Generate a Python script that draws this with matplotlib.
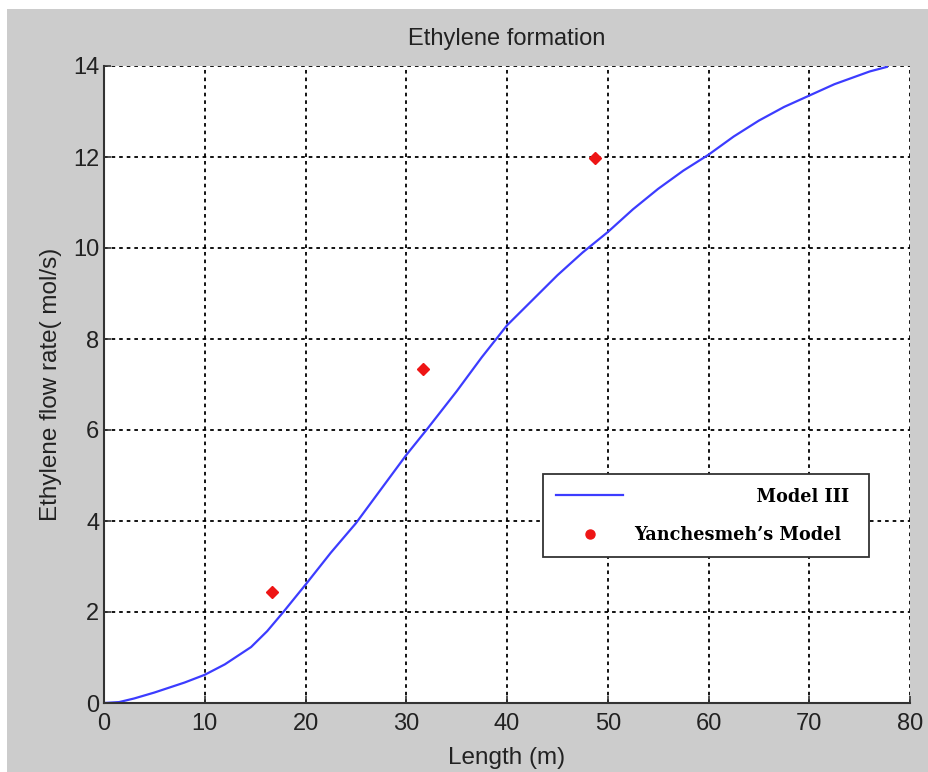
import numpy as np
import matplotlib
matplotlib.use('Agg')
import matplotlib.pyplot as plt
from matplotlib.patches import Rectangle

# Model III curve
length_m = [0, 1.5, 3, 5, 8, 10, 12, 14.6, 16.2, 17.8, 20, 22.5, 25, 27.5, 30,
            32, 35, 37.5, 40, 42.5, 45, 47.5, 50, 52.5, 55, 57.5, 60, 62.5,
            65, 67.5, 70, 72.5, 75, 76, 77.7]
ethylene = [0.0, 0.02, 0.1, 0.23, 0.45, 0.62, 0.85, 1.23, 1.58, 2.0, 2.6, 3.3,
            3.95, 4.7, 5.45, 6.0, 6.85, 7.6, 8.3, 8.85, 9.4, 9.9, 10.35, 10.85,
            11.3, 11.7, 12.05, 12.45, 12.8, 13.1, 13.35, 13.6, 13.8, 13.88, 13.98]

# Yanchesmeh's model points
ref_x = [16.65, 31.7, 48.75]
ref_y = [2.43, 7.34, 11.97]

fig = plt.figure(figsize=(9.29, 7.72), dpi=100)
fig.patch.set_facecolor('#cccccc')
# white strips at top and left edge of the screenshot
fig.patches.append(Rectangle((0, 1 - 9/772.), 1, 9/772., transform=fig.transFigure,
                             facecolor='white', edgecolor='none', zorder=-1))
fig.patches.append(Rectangle((0, 0), 7/929., 1, transform=fig.transFigure,
                             facecolor='white', edgecolor='none', zorder=-1))

ax = fig.add_axes([104/929., 1 - 703/772., 806/929., 637/772.])
ax.set_facecolor('white')

font = 'Liberation Sans'
txtc = '#222222'

ax.plot(length_m, ethylene, color='#3c3cff', linewidth=1.6,
        label=' ' * 20 + 'Model III')
ax.plot(ref_x, ref_y, linestyle='none', marker='D', markersize=6.5,
        color='#ee1515', label="Yanchesmeh\u2019s Model")

ax.set_xlim(0, 80)
ax.set_ylim(0, 14)
ax.set_xticks(np.arange(0, 81, 10))
ax.set_yticks(np.arange(0, 15, 2))

ax.grid(True, color='black', linestyle=(0, (2, 2.2)), linewidth=1.3)
ax.set_axisbelow(True)
ax.spines['top'].set_visible(False)
ax.spines['right'].set_visible(False)
for s in ['left', 'bottom']:
    ax.spines[s].set_color('#333333')
    ax.spines[s].set_linewidth(1.5)

ax.tick_params(direction='in', length=5, width=1.2, color='#333333',
               labelsize=17, labelcolor=txtc)
ax.tick_params(axis='x', pad=7)
for t in ax.get_xticklabels() + ax.get_yticklabels():
    t.set_fontfamily(font)

ax.set_title('Ethylene formation', fontsize=17, family=font, color=txtc, pad=15)
ax.set_xlabel('Length (m)', fontsize=17.5, family=font, color=txtc, labelpad=9)
ax.set_ylabel('Ethylene flow rate( mol/s)', fontsize=17.5, family=font, color=txtc, labelpad=8)

leg = ax.legend(loc='lower left', bbox_to_anchor=(0.5447, 0.229, 0.405, 0.127),
                mode='expand', borderaxespad=0, handlelength=3.8, handletextpad=0.6,
                borderpad=0.75, labelspacing=1.15, fancybox=False, framealpha=1,
                prop={'family': 'DejaVu Serif', 'weight': 'bold', 'size': 12.7})
leg.get_frame().set_edgecolor('#333333')
leg.get_frame().set_linewidth(1.3)
# the legend in the reference shows a round dot
leg.legend_handles[1].set_marker('o')

fig.savefig('out.png', dpi=100, facecolor=fig.get_facecolor())
